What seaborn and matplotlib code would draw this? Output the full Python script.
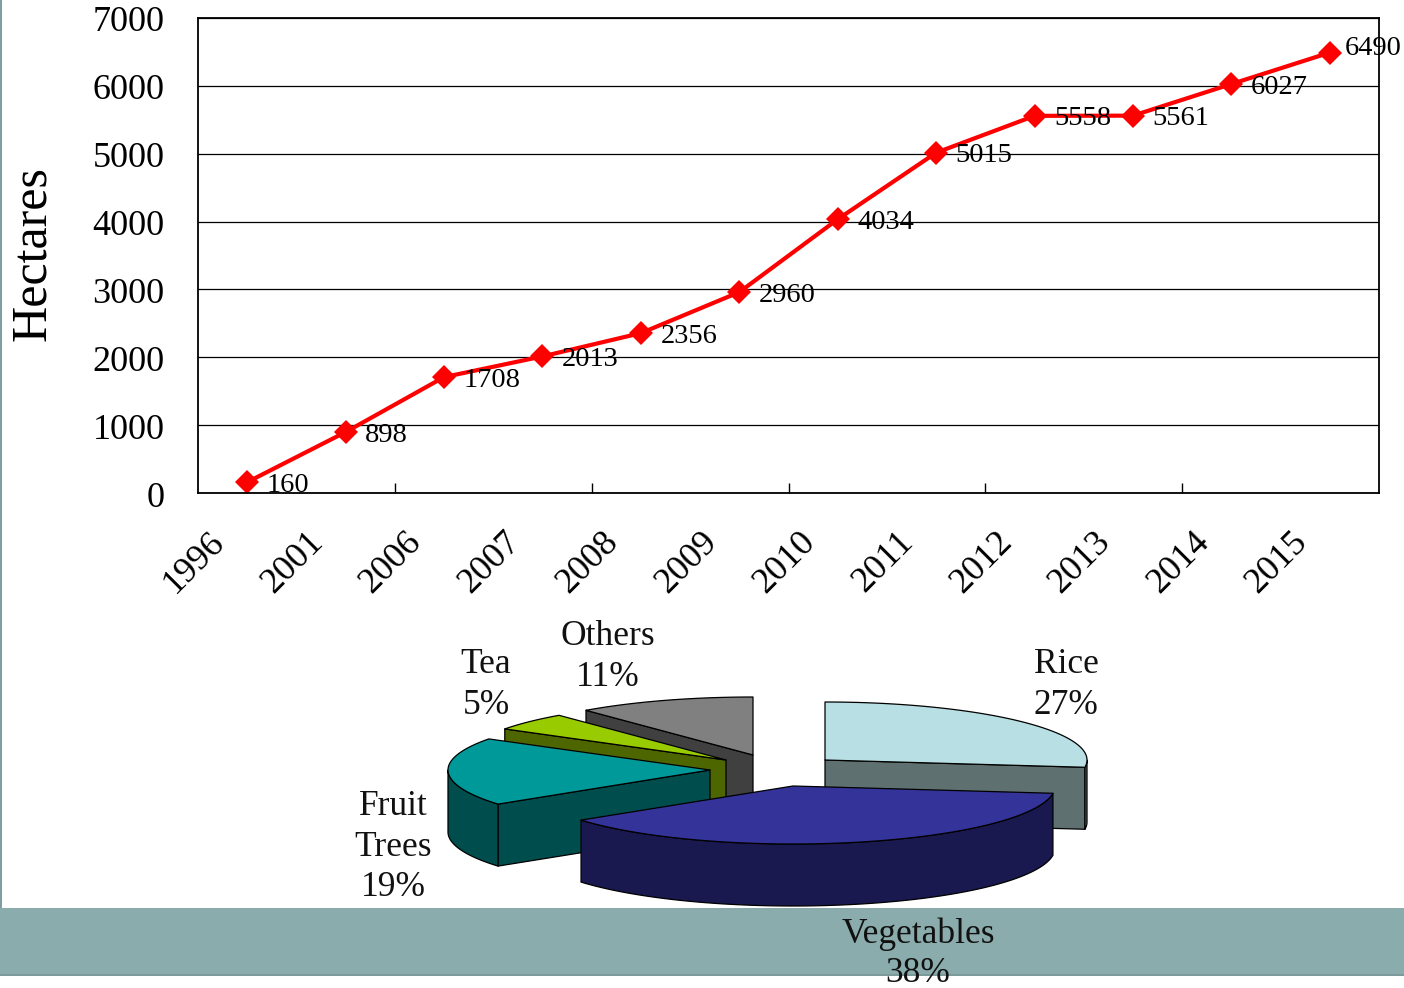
import numpy as np
import pandas as pd
import matplotlib
matplotlib.use("Agg")
import matplotlib.pyplot as plt
import matplotlib.transforms as mtrans
from matplotlib.patches import Polygon, Rectangle
import seaborn as sns

years = ["1996", "2001", "2006", "2007", "2008", "2009", "2010", "2011", "2012", "2013", "2014", "2015"]
hectares = [160, 898, 1708, 2013, 2356, 2960, 4034, 5015, 5558, 5561, 6027, 6490]
y_ticks = [0, 1000, 2000, 3000, 4000, 5000, 6000, 7000]

crops = ["Rice", "Vegetables", "Fruit\nTrees", "Tea", "Others"]
shares = [27, 38, 19, 5, 11]
top_colors = ["#B8E0E4", "#333399", "#009999", "#99CC00", "#808080"]
wall_colors = ["#5F7070", "#191950", "#004D4D", "#4D6600", "#404040"]

W, H = 1404, 988
sns.set_theme(style="white")
plt.rcParams["font.family"] = ["Liberation Serif", "DejaVu Sans"]

fig = plt.figure(figsize=(W / 100, H / 100), dpi=100, facecolor="white")

# ---------- page layer in pixel coordinates ----------
page = fig.add_axes([0, 0, 1, 1], zorder=0)
page.set_xlim(0, W)
page.set_ylim(H, 0)
page.axis("off")
band = "#8BACAC"
page.add_patch(Rectangle((0, 0), 2, 908, color="#7F9EA2", lw=0))
page.add_patch(Rectangle((0, 908), W, 67, color=band, lw=0))
page.add_patch(Rectangle((0, 973.5), W, 2, color="#7D9A9A", lw=0))

# ---------- exploded 3-D pie, angles derived from shares ----------
rx, ry, depth = 262, 58, 62
apexes = [(825, 760), (793, 786), (710, 770), (726, 760), (753, 755)]
draw_order = [4, 3, 2, 0, 1]
edges = np.cumsum([0] + shares) / sum(shares) * 2 * np.pi


def rim(apex, a, b, n=80):
    t = np.linspace(a, b, n)
    return np.column_stack([apex[0] + rx * np.sin(t), apex[1] - ry * np.cos(t)])


for i in draw_order:
    a, b = edges[i], edges[i + 1]
    apex = np.array(apexes[i], float)
    down = np.array([0, depth])
    style = dict(ec="black", lw=0.9, joinstyle="round")
    start = rim(apex, a, a, 1)[0]
    end = rim(apex, b, b, 1)[0]
    if a > np.pi:
        page.add_patch(Polygon([apex, start, start + down, apex + down], fc=wall_colors[i], **style))
    if b < np.pi:
        page.add_patch(Polygon([apex, end, end + down, apex + down], fc=wall_colors[i], **style))
    lo, hi = max(a, np.pi / 2), min(b, 3 * np.pi / 2)
    if hi > lo:
        front = rim(apex, lo, hi)
        page.add_patch(Polygon(np.vstack([front, (front + down)[::-1]]), fc=wall_colors[i], **style))
    page.add_patch(Polygon(np.vstack([[apex], rim(apex, a, b)]), fc=top_colors[i], **style))

# ---------- pie labels ----------
label_pos = [(1066, 685), (918, 954), (393, 847), (486, 685), (608, 657)]
for name, share, (x, y) in zip(crops, shares, label_pos):
    page.text(x, y, f"{name}\n{share}%", ha="center", va="center", fontsize=25.5,
              linespacing=1.25 if name == "Vegetables" else 1.3, color="#111111", zorder=5)

# ---------- line chart ----------
left, right, top, bottom = 198, 1379, 18, 493
ax = fig.add_axes([left / W, 1 - bottom / H, (right - left) / W, (bottom - top) / H], zorder=2)
ax.patch.set_alpha(0)
df = pd.DataFrame({"year": years, "hectares": hectares})
sns.lineplot(data=df, x="year", y="hectares", ax=ax, sort=False, color="#FF0000", lw=3,
             marker="D", markersize=12, markeredgecolor="#FF0000", markeredgewidth=0, errorbar=None)
ax.set_xlim(-0.5, len(years) - 0.5)
ax.set_ylim(0, 7000)
ax.set_yticks(y_ticks)
ax.set_yticklabels([str(v) for v in y_ticks], fontsize=26, color="black")
ax.tick_params(axis="y", length=0, pad=24)
shift_y = mtrans.ScaledTranslation(0, -1 / 100, fig.dpi_scale_trans)
for lab in ax.get_yticklabels():
    lab.set_transform(lab.get_transform() + shift_y)
ax.yaxis.grid(True, color="black", lw=0.9)
ax.xaxis.grid(False)
ax.set_axisbelow(True)
ax.set_xlabel("")
ax.set_ylabel("")
ax.set_xticks(range(len(years)))
ax.set_xticklabels(years, fontsize=26, rotation=45, ha="right", rotation_mode="anchor", color="black")
ax.tick_params(axis="x", which="major", length=0, pad=23.5)
shift = mtrans.ScaledTranslation(-39 / 100, 0, fig.dpi_scale_trans)
for lab in ax.get_xticklabels():
    lab.set_transform(lab.get_transform() + shift)
ax.set_xticks(np.arange(1.5, len(years) - 1, 2), minor=True)
ax.tick_params(axis="x", which="minor", direction="in", length=7, width=1, color="black", bottom=True)
for s in ax.spines.values():
    s.set_visible(True)
    s.set_color("black")
    s.set_linewidth(1.3)
for i, v in enumerate(hectares):
    last = i == len(hectares) - 1
    ax.annotate(str(v), (i, v), xytext=(11 if last else 14, 3 if last else -2.2), textcoords="offset points",
                ha="left", va="center", fontsize=20.5, color="black", annotation_clip=False)
fig.text(33 / W, 1 - 254 / H, "Hectares", rotation=90, ha="center", va="center", fontsize=36, color="black")

fig.savefig("out.png", dpi=100)
